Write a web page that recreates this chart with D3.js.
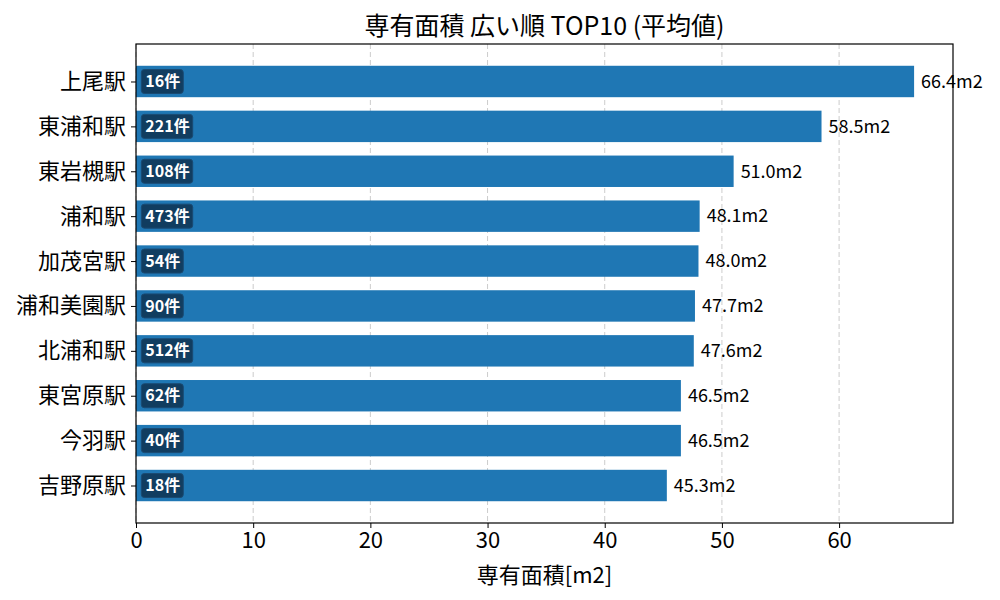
<!DOCTYPE html>
<html>
<head>
<meta charset="utf-8">
<script src="https://cdn.jsdelivr.net/npm/d3@7"></script>
<style>
  body { margin: 0; background: #fff; }
  text { font-family: "Noto Sans CJK JP", "Noto Sans", sans-serif; }
</style>
</head>
<body>
<svg id="chart" width="1000" height="600"></svg>
<script>
// data
const stations = ["上尾駅", "東浦和駅", "東岩槻駅", "浦和駅", "加茂宮駅", "浦和美園駅", "北浦和駅", "東宮原駅", "今羽駅", "吉野原駅"];
const areas = [66.4, 58.5, 51.0, 48.1, 48.0, 47.7, 47.6, 46.5, 46.5, 45.3];
const counts = [16, 221, 108, 473, 54, 90, 512, 62, 40, 18];
const xTicks = [0, 10, 20, 30, 40, 50, 60];

const margin = {top: 44, right: 47, bottom: 77, left: 136};
const width = 1000 - margin.left - margin.right;
const height = 600 - margin.top - margin.bottom;

const svg = d3.select("#chart");
const g = svg.append("g").attr("transform", `translate(${margin.left},${margin.top})`);

const x = d3.scaleLinear()
    .domain([0, d3.max(areas) * 1.05])
    .range([0, width]);

// matplotlib style: bars of height 0.7 at integer positions, 5% margins
const barH = 0.7;
const pad = (stations.length - 1 + barH) * 0.05;
const y = d3.scaleLinear()
    .domain([-barH / 2 - pad, stations.length - 1 + barH / 2 + pad])
    .range([0, height]);

// grid
g.selectAll("line.grid")
    .data(xTicks)
    .join("line")
    .attr("class", "grid")
    .attr("x1", d => x(d)).attr("x2", d => x(d))
    .attr("y1", 0).attr("y2", height)
    .attr("stroke", "#cccccc")
    .attr("stroke-width", 1)
    .attr("stroke-dasharray", "5,3");

// bars
g.selectAll("rect.bar")
    .data(areas)
    .join("rect")
    .attr("class", "bar")
    .attr("x", x(0))
    .attr("y", (d, i) => y(i - barH / 2))
    .attr("width", d => x(d) - x(0))
    .attr("height", y(barH) - y(0))
    .attr("fill", "#1f77b4");

// value labels
g.selectAll("text.val")
    .data(areas)
    .join("text")
    .attr("class", "val")
    .attr("x", d => x(d) + 7)
    .attr("y", (d, i) => y(i))
    .attr("dy", "0.35em")
    .attr("font-size", 18)
    .attr("fill", "#000")
    .text(d => d.toFixed(1) + "m2");

// count badges
const badges = g.selectAll("g.badge")
    .data(counts)
    .join("g")
    .attr("class", "badge")
    .attr("transform", (d, i) => `translate(${x(0.8)},${y(i)})`);

badges.append("text")
    .attr("x", 0)
    .attr("dy", "0.35em")
    .attr("font-size", 16)
    .attr("font-weight", "bold")
    .attr("fill", "#fff")
    .text(d => d + "件")
    .each(function() {
        const bb = this.getBBox();
        d3.select(this.parentNode).insert("rect", "text")
            .attr("x", bb.x - 4)
            .attr("y", -12)
            .attr("width", bb.width + 7)
            .attr("height", 24)
            .attr("rx", 3)
            .attr("fill", "#0f3656")
            .attr("fill-opacity", 0.9)
            .attr("stroke", "#1a4a72")
            .attr("stroke-width", 1);
    });

// axes
const xAxis = g.append("g")
    .attr("transform", `translate(0,${height})`)
    .call(d3.axisBottom(x).tickValues(xTicks).tickSize(5).tickPadding(4).tickFormat(d3.format("d")));
xAxis.selectAll("text").attr("font-size", 22).attr("fill", "#000")
    .style("font-family", '"Noto Sans CJK JP", sans-serif');

const yAxis = g.append("g")
    .call(d3.axisLeft(y).tickValues(d3.range(stations.length)).tickSize(5).tickPadding(5).tickFormat(i => stations[i]));
yAxis.selectAll("text").attr("font-size", 22).attr("fill", "#000")
    .style("font-family", '"Noto Sans CJK JP", sans-serif');

[xAxis, yAxis].forEach(a => {
    a.select(".domain").remove();
    a.selectAll("line").attr("stroke", "#000");
});

// frame
g.append("rect")
    .attr("width", width).attr("height", height)
    .attr("fill", "none").attr("stroke", "#000").attr("stroke-width", 1.2);

// title + axis label
svg.append("text")
    .attr("x", margin.left + width / 2).attr("y", 35)
    .attr("text-anchor", "middle")
    .attr("font-size", 25)
    .text("専有面積 広い順 TOP10 (平均値)");

svg.append("text")
    .attr("x", margin.left + width / 2).attr("y", 583)
    .attr("text-anchor", "middle")
    .attr("font-size", 22)
    .text("専有面積[m2]");
</script>
</body>
</html>
